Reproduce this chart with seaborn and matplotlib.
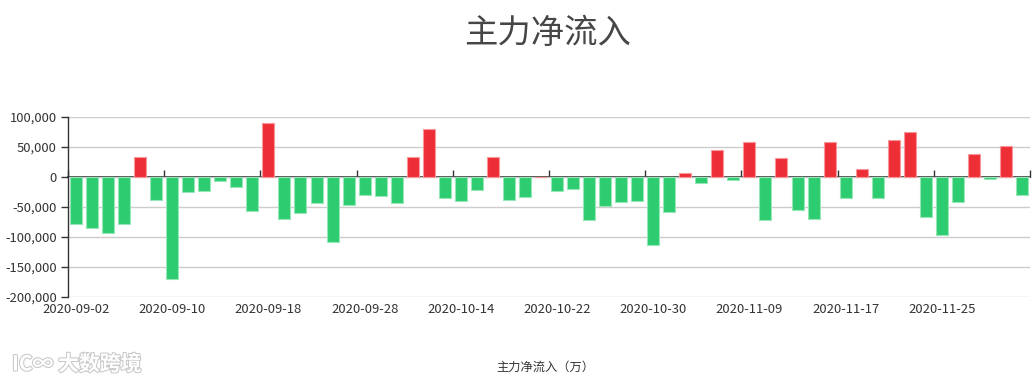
import pandas as pd
import seaborn as sns
import matplotlib.pyplot as plt
import matplotlib.patheffects as pe
from matplotlib.ticker import FuncFormatter

# 交易日
dates = [
    "2020-09-02", "2020-09-03", "2020-09-04", "2020-09-07", "2020-09-08", "2020-09-09",
    "2020-09-10", "2020-09-11", "2020-09-14", "2020-09-15", "2020-09-16", "2020-09-17",
    "2020-09-18", "2020-09-21", "2020-09-22", "2020-09-23", "2020-09-24", "2020-09-25",
    "2020-09-28", "2020-09-29", "2020-09-30", "2020-10-09", "2020-10-12", "2020-10-13",
    "2020-10-14", "2020-10-15", "2020-10-16", "2020-10-19", "2020-10-20", "2020-10-21",
    "2020-10-22", "2020-10-23", "2020-10-26", "2020-10-27", "2020-10-28", "2020-10-29",
    "2020-10-30", "2020-11-02", "2020-11-03", "2020-11-04", "2020-11-05", "2020-11-06",
    "2020-11-09", "2020-11-10", "2020-11-11", "2020-11-12", "2020-11-13", "2020-11-16",
    "2020-11-17", "2020-11-18", "2020-11-19", "2020-11-20", "2020-11-23", "2020-11-24",
    "2020-11-25", "2020-11-26", "2020-11-27", "2020-11-30", "2020-12-01", "2020-12-02",
]

# 主力净流入（万）
net_inflow = [
    -78900, -85600, -93300, -78900, 33300, -38900, -169400, -25600, -23300, -7200,
    -17200, -57200, 89400, -69400, -60600, -43300, -108900, -46700, -30000, -32200,
    -43300, 33300, 80000, -35000, -39400, -22200, 33300, -38300, -33300, 0,
    -23300, -19400, -71700, -47800, -41700, -39400, -113900, -57800, 7200, -10000,
    44400, -4400, 58300, -71700, 31700, -54400, -69400, 57800, -34400, 12800,
    -35000, 61700, 75000, -67200, -97200, -42200, 38300, -2800, 51100, -30600,
]

y_ticks = [-200000, -150000, -100000, -50000, 0, 50000, 100000]
label_step = 6

sns.set_theme(style="white")
plt.rcParams['font.family'] = ['Noto Sans CJK SC', 'DejaVu Sans']

df = pd.DataFrame({'date': dates, 'value': net_inflow})
df['sign'] = ['up' if v >= 0 else 'down' for v in df['value']]

fig = plt.figure(figsize=(10.34, 3.82), dpi=100)
ax = fig.add_axes([68 / 1034, 1 - 297 / 382, (1030 - 68) / 1034, 180 / 382])

sns.barplot(data=df, x='date', y='value', hue='sign', hue_order=['up', 'down'],
            palette={'up': '#ee2e36', 'down': '#2ecc71'}, dodge=False, width=0.75,
            saturation=1, legend=False, ax=ax, linewidth=0)

# 浅色描边
for bar in ax.patches:
    fc = bar.get_facecolor()
    bar.set_edgecolor((fc[0] + (1 - fc[0]) * 0.5, fc[1] + (1 - fc[1]) * 0.5, fc[2] + (1 - fc[2]) * 0.5))
    bar.set_linewidth(0.8)

ax.set_ylim(-200000, 100000)
ax.set_xlim(-0.5, len(dates) - 0.5)
ax.set_yticks(y_ticks)
ax.yaxis.set_major_formatter(FuncFormatter(lambda v, p: f'{int(v):,}'))
ax.yaxis.grid(True, color='#cccccc', linewidth=1)
ax.set_axisbelow(True)

ax.set_xticks(range(0, len(dates), label_step))
ax.set_xticklabels(dates[::label_step])
ax.tick_params(axis='x', length=0, pad=4.5, labelsize=9.4, labelcolor='#333333')
ax.tick_params(axis='y', left=True, length=5, width=1, color='#333333',
               pad=3, labelsize=9.4, labelcolor='#333333')

for s in ['top', 'right', 'bottom']:
    ax.spines[s].set_visible(False)
ax.spines['left'].set_color('#333333')
ax.spines['left'].set_linewidth(1)

# 零轴 + 分隔刻度
zero_ax = ax.secondary_xaxis(2 / 3)
zero_ax.set_xticks([k - 0.5 for k in range(0, len(dates) + 1, label_step)])
zero_ax.set_xticklabels([])
zero_ax.tick_params(axis='x', direction='out', length=5, width=1, color='#333333')
zero_ax.spines['bottom'].set_color('#333333')
zero_ax.spines['bottom'].set_linewidth(1)

ax.set_xlabel('')
ax.set_ylabel('')

fig.text(548 / 1034, 1 - 33 / 382, '主力净流入', ha='center', va='center',
         fontsize=24, color='#464646')
fig.text(545 / 1034, 1 - 367 / 382, '主力净流入（万）', ha='center', va='center',
         fontsize=8.8, color='#333333')

# 水印
fig.text(12 / 1034, 1 - 364 / 382, 'IC∞ 大数跨境', ha='left', va='center',
         fontsize=15, color='white', fontweight='bold',
         path_effects=[pe.withStroke(linewidth=1.5, foreground='#c8c8c8')])

fig.savefig('out.png', dpi=100)
